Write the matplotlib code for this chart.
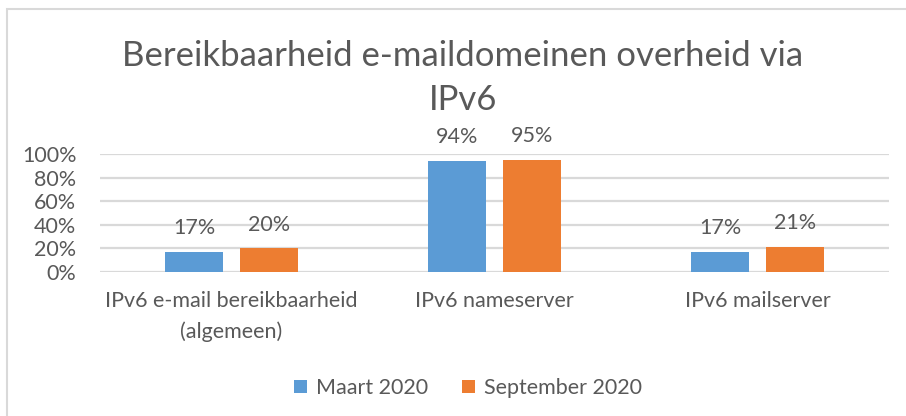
import matplotlib
matplotlib.use("Agg")
import matplotlib.pyplot as plt
import numpy as np
from matplotlib.patches import Rectangle

plt.rcParams['font.family'] = ['Lato', 'DejaVu Sans']

categories = ["IPv6 e-mail bereikbaarheid\n(algemeen)", "IPv6 nameserver", "IPv6 mailserver"]
series_names = ["Maart 2020", "September 2020"]
maart = [17, 94, 17]
september = [20, 95, 21]
yticks = [0, 20, 40, 60, 80, 100]
title = "Bereikbaarheid e-maildomeinen overheid via\nIPv6"

BLUE = "#5B9BD5"
ORANGE = "#ED7D31"
TXT = "#595959"
GRID = "#D9D9D9"

W, H = 906, 416
fig = plt.figure(figsize=(W / 100, H / 100), dpi=100)
ax = fig.add_axes([100 / W, 1 - 272 / H, (889 - 100) / W, (272 - 154) / H])

x = np.arange(len(categories))
bw = 0.224
off = 0.1426
b1 = ax.bar(x - off, maart, bw, color=BLUE, label=series_names[0], zorder=3)
b2 = ax.bar(x + off, september, bw, color=ORANGE, label=series_names[1], zorder=3)

for bars, vals in ((b1, maart), (b2, september)):
    for rect, v in zip(bars, vals):
        ax.annotate(f"{v}%", (rect.get_x() + rect.get_width() / 2, rect.get_height()),
                    xytext=(0, 10), textcoords="offset points", ha="center", va="bottom",
                    fontsize=15.5, color=TXT, annotation_clip=False)

ax.set_xlim(-0.5, len(categories) - 0.5)
ax.set_ylim(0, 100)
ax.set_yticks(yticks)
ax.set_yticklabels([f"{t}%" for t in yticks], fontsize=15.5, color=TXT)
ax.set_xticks(x)
ax.set_xticklabels(categories, fontsize=15.5, color=TXT, linespacing=1.6)
ax.tick_params(axis="both", length=0)
ax.tick_params(axis="y", pad=17)
ax.tick_params(axis="x", pad=14)
ax.grid(axis="y", color=GRID, linewidth=1.6, zorder=0)
ax.set_axisbelow(True)
for s in ax.spines.values():
    s.set_visible(False)

fig.text(463 / W, 1 - 78 / H, title, ha="center", va="center", fontsize=25,
         color=TXT, linespacing=1.5)

handles = [b1, b2]
leg = fig.legend(handles, series_names, loc="center", bbox_to_anchor=(468 / W, 1 - 388 / H),
                 ncol=2, frameon=False, fontsize=15.5, handlelength=0.6, handleheight=0.6,
                 handletextpad=0.4, columnspacing=1.6)
for t in leg.get_texts():
    t.set_color(TXT)

fig.patches.append(Rectangle((7 / W, -0.1), 1.2, 1 - 9 / H + 0.1, transform=fig.transFigure,
                             fill=False, edgecolor=GRID, linewidth=1.5))

fig.savefig("out.png", dpi=100)
